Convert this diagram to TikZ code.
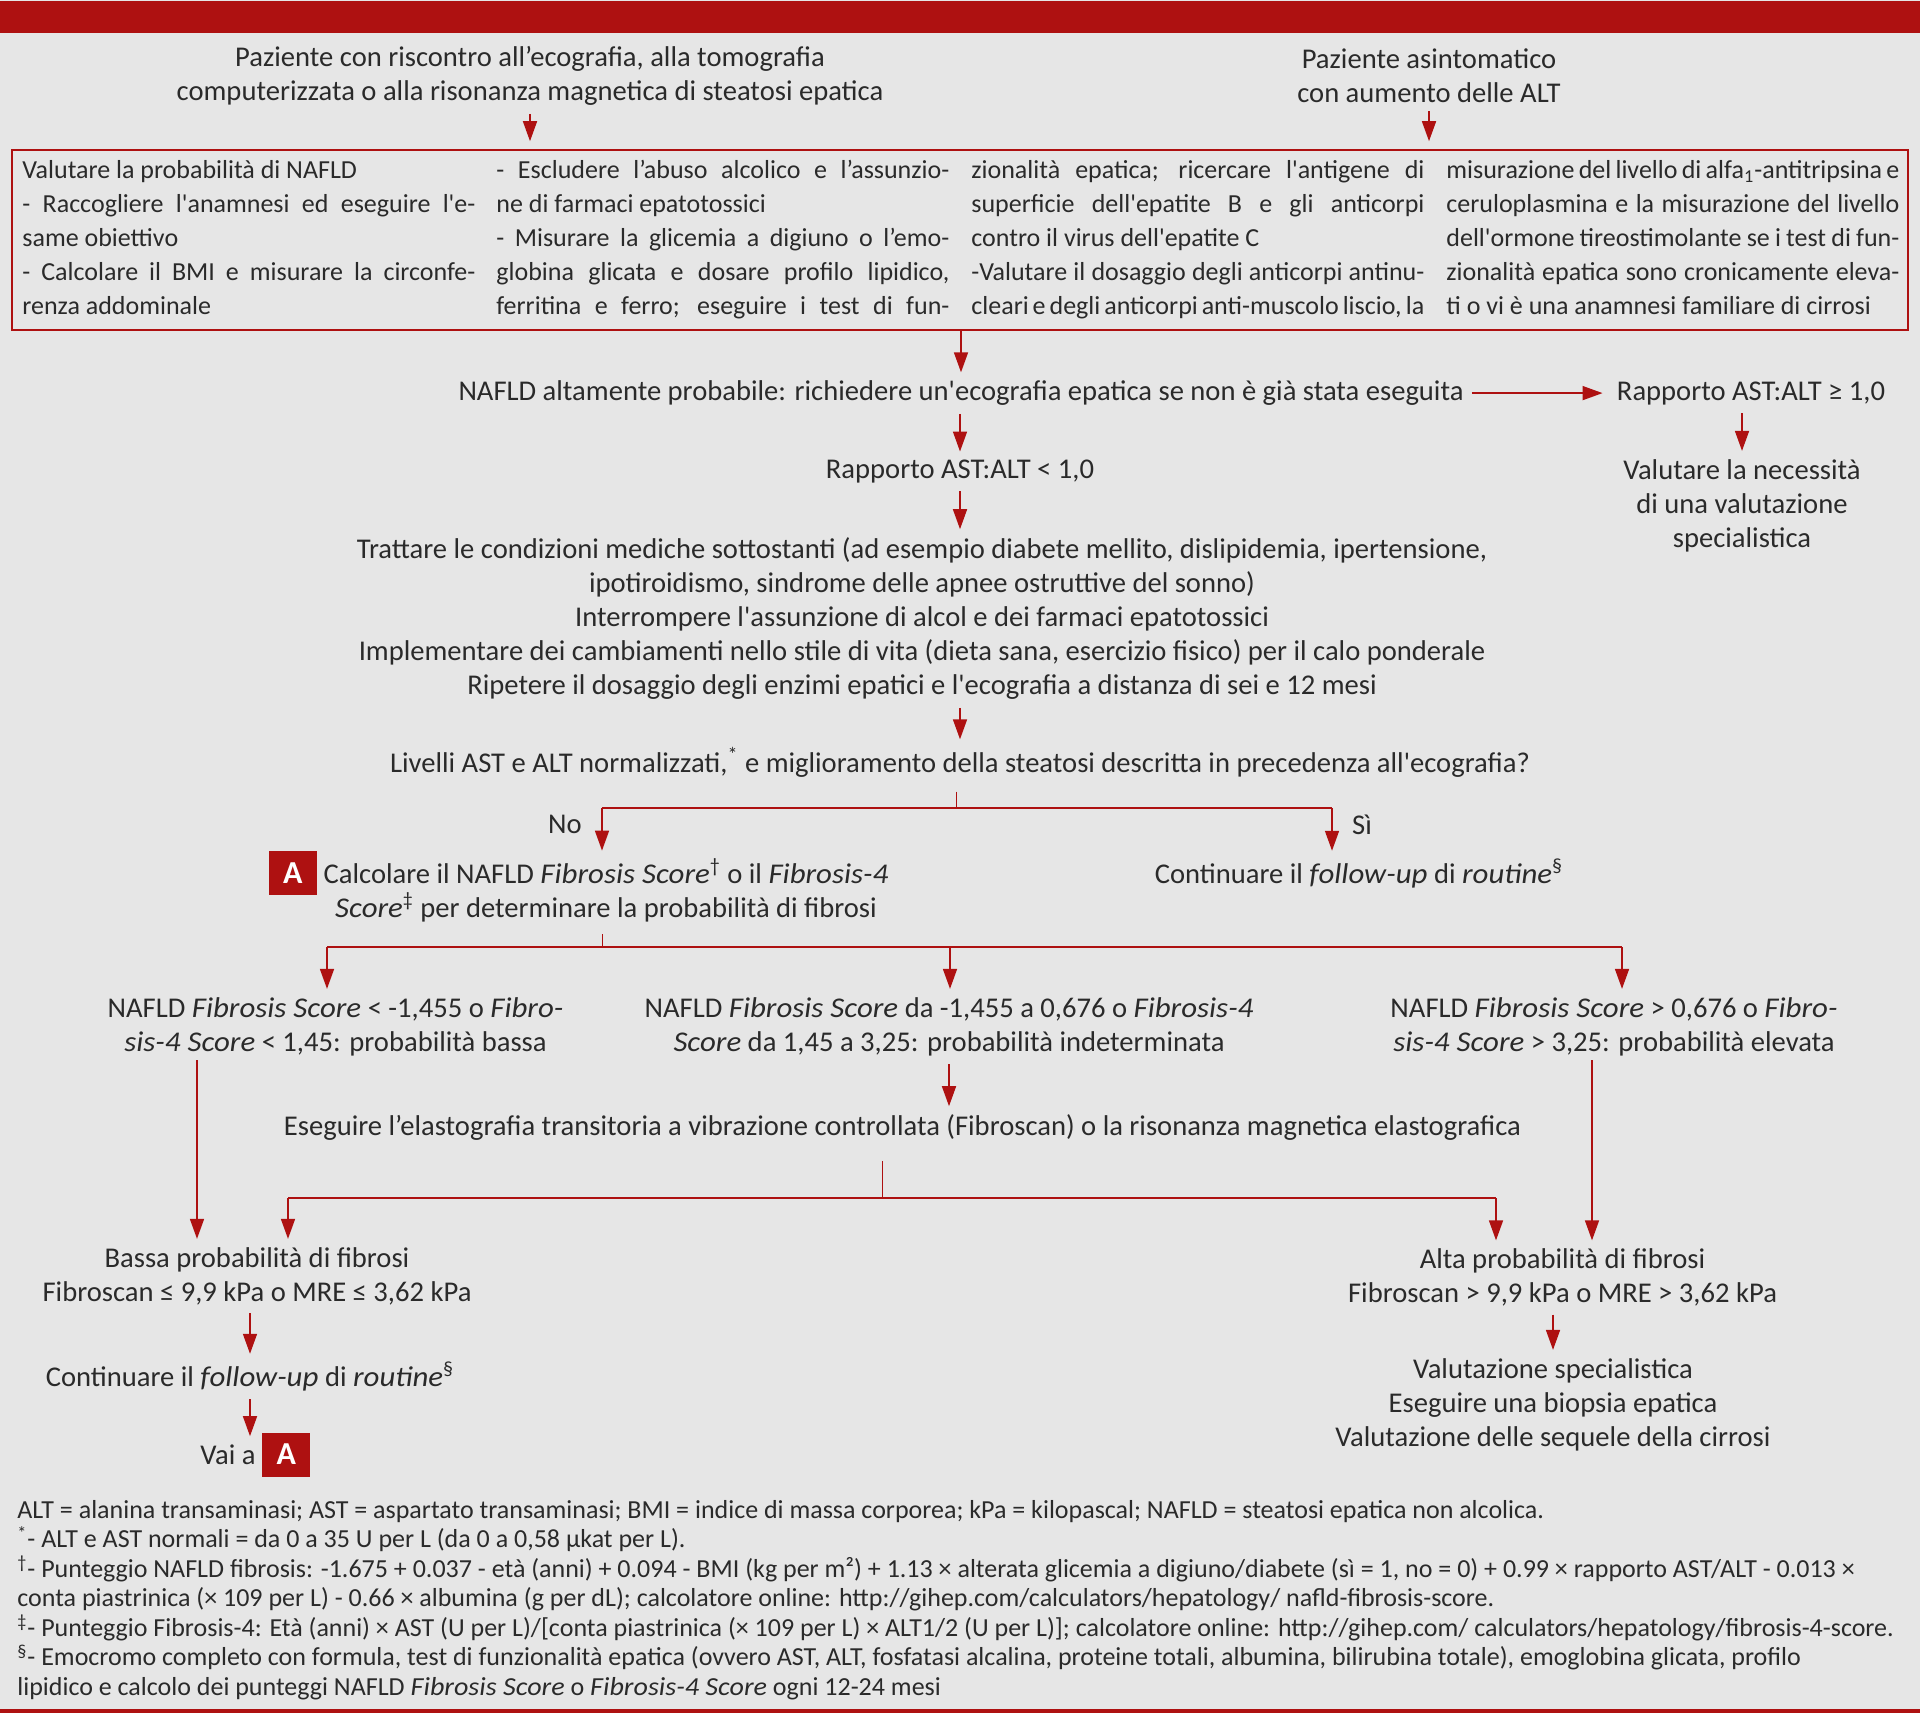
\documentclass[tikz,border=0pt]{standalone}
\usepackage{fontspec}
\setmainfont{Carlito}[Ligatures=TeXOff,ItalicFeatures={FakeStretch=1.08}]
\usetikzlibrary{arrows.meta,positioning,calc}
\definecolor{flowred}{HTML}{AE1111}
\definecolor{bggray}{HTML}{E6E6E6}
\definecolor{txtgray}{HTML}{2A2A2A}
\newlength{\colw}
\setlength{\colw}{226.5pt}
\newcommand{\jl}[1]{\makebox[\colw][s]{#1}}
\tikzset{
  arr/.style={-{Triangle[length=10pt,width=7pt]},flowred,line width=0.8pt,
    shorten <=4pt,shorten >=4pt},
  drop/.style={arr,shorten <=0pt},
  fork/.style={flowred,line width=1.4pt},
  stub/.style={flowred,line width=0.5pt},
  txt/.style={align=center,font=\fontsize{14.3}{17}\selectfont,text=txtgray,
    inner sep=0pt,yshift=-1.25pt},
  col/.style={align=left,font=\fontsize{13}{17}\selectfont,text=txtgray,
    inner sep=0pt,anchor=north west},
  badge/.style={fill=flowred,text=white,font=\fontsize{16}{16}\selectfont\bfseries,
    minimum width=24pt,minimum height=22pt,inner sep=0pt},
  note/.style={align=left,font=\fontsize{13}{14.75}\selectfont,text=txtgray,
    inner sep=0pt,anchor=north west},
}

\begin{document}
\begin{tikzpicture}[x=0.5pt,y=0.5pt]

\fill[bggray] (0,0) rectangle (1920,-1713);
\useasboundingbox (0,0) rectangle (1920,-1713);
\fill[flowred] (0,-1) rectangle (1920,-33);
\fill[flowred] (0,-1709) rectangle (1920,-1713);

\node[txt] (pz1) at (530,-73.5) {Paziente con riscontro all’ecografia, alla tomografia\\
  computerizzata o alla risonanza magnetica di steatosi epatica};
\node[txt] (pz2) at (1429,-73.5) {Paziente asintomatico\\con aumento delle ALT};

\node[draw=flowred,line width=0.8pt,minimum width=948pt,minimum height=90pt,
  inner sep=0pt] (box) at (960,-240) {};
\node[col] (c1) at (22,-160) {Valutare la probabilità di NAFLD\\
  \jl{- Raccogliere l'anamnesi ed eseguire l'e-}\\
  same obiettivo\\
  \jl{- Calcolare il BMI e misurare la circonfe-}\\
  renza addominale};
\node[col] (c2) at (496,-160) {\jl{- Escludere l’abuso alcolico e l’assunzio-}\\
  ne di farmaci epatotossici\\
  \jl{- Misurare la glicemia a digiuno o l’emo-}\\
  \jl{globina glicata e dosare profilo lipidico,}\\
  \jl{ferritina e ferro; eseguire i test di fun-}};
\node[col] (c3) at (971,-160) {\jl{zionalità epatica; ricercare l'antigene di}\\
  \jl{superficie dell'epatite B e gli anticorpi}\\
  contro il virus dell'epatite C\\
  \jl{-Valutare il dosaggio degli anticorpi antinu-}\\
  \jl{cleari e degli anticorpi anti-muscolo liscio, la}};
\node[col] (c4) at (1446,-160) {\jl{misurazione del livello di alfa\textsubscript{1}-antitripsina e}\\
  \jl{ceruloplasmina e la misurazione del livello}\\
  \jl{dell'ormone tireostimolante se i test di fun-}\\
  \jl{zionalità epatica sono cronicamente eleva-}\\
  ti o vi è una anamnesi familiare di cirrosi};

\draw[arr] (pz1.south) -- (pz1.south |- box.north);
\draw[arr] (pz2.south) -- (pz2.south |- box.north);

\node[txt] (nafld) at (961,-390.6) {NAFLD altamente probabile: richiedere un'ecografia epatica se non è già stata eseguita};
\node[txt] (rapge) at (1751,-390.6) {Rapporto AST:ALT ≥ 1,0};
\node[txt] (need) at (1742,-503) {Valutare la necessità\\di una valutazione\\specialistica};
\node[txt] (raplt) at (960,-469) {Rapporto AST:ALT < 1,0};
\node[txt] (treat) at (922,-616) {Trattare le condizioni mediche sottostanti (ad esempio diabete mellito, dislipidemia, ipertensione,\\
  ipotiroidismo, sindrome delle apnee ostruttive del sonno)\\
  Interrompere l'assunzione di alcol e dei farmaci epatotossici\\
  Implementare dei cambiamenti nello stile di vita (dieta sana, esercizio fisico) per il calo ponderale\\
  Ripetere il dosaggio degli enzimi epatici e l'ecografia a distanza di sei e 12 mesi};
\node[txt] (norm) at (960,-760) {Livelli AST e ALT normalizzati,\textsuperscript{*} e miglioramento della steatosi descritta in precedenza all'ecografia?};

\draw[arr,shorten <=0pt] (box.south -| nafld) -- (nafld.north);
\draw[arr,shorten >=7pt] (nafld.east) -- (rapge.west);
\draw[arr] (need.north |- rapge.south) -- (need.north);
\draw[arr] (nafld.south -| raplt) -- (raplt.north);
\draw[arr] (raplt.south) -- (raplt.south |- treat.north);
\draw[arr] (treat.south -| norm) -- (norm.north);

% No / Si
\coordinate (f0) at (956,-808);
\coordinate (fL) at (602,-808);
\coordinate (fR) at (1332,-808);
\node[txt] (no) at (565,-822) {No};
\node[txt] (si) at (1362,-822) {Sì};
\node[txt] (calc) at (606,-888) {Calcolare il NAFLD \textit{Fibrosis Score}\textsuperscript{†} o il \textit{Fibrosis-4}\\
  \textit{Score}\textsuperscript{‡} per determinare la probabilità di fibrosi};
\node[badge,anchor=east] (ba) at ($(calc.north west)+(-3pt,-7pt)$) {A};
\node[txt] (fup) at (1359,-871) {Continuare il \textit{follow-up} di \textit{routine}\textsuperscript{§}};

\draw[stub,shorten <=7pt] (norm.south -| f0) -- (f0);
\draw[fork] (fL) -- (fR);
\draw[drop] (fL) -- (fL |- calc.north);
\draw[drop] (fR) -- (fR |- fup.north);

% three scores
\coordinate (g0) at (602,-947);
\coordinate (gL) at (327,-947);
\coordinate (gM) at (950,-947);
\coordinate (gR) at (1622,-947);
\node[txt] (lo) at (335.5,-1024) {NAFLD \textit{Fibrosis Score} < -1,455 o \textit{Fibro-}\\
  \textit{sis-4 Score} < 1,45: probabilità bassa};
\node[txt] (mid) at (949,-1024) {NAFLD \textit{Fibrosis Score} da -1,455 a 0,676 o \textit{Fibrosis-4}\\
  \textit{Score} da 1,45 a 3,25: probabilità indeterminata};
\node[txt] (hi) at (1614,-1024) {NAFLD \textit{Fibrosis Score} > 0,676 o \textit{Fibro-}\\
  \textit{sis-4 Score} > 3,25: probabilità elevata};

\draw[stub,shorten <=6pt] (calc.south -| g0) -- (g0);
\draw[fork] (gL) -- (gR);
\draw[drop] (gL) -- (gL |- lo.north);
\draw[drop] (gM) -- (gM |- mid.north);
\draw[drop] (gR) -- (gR |- hi.north);

\node[txt] (elasto) at (902.5,-1125) {Eseguire l’elastografia transitoria a vibrazione controllata (Fibroscan) o la risonanza magnetica elastografica};
\draw[arr] (mid.south) -- (mid.south |- elasto.north);

\coordinate (h0) at (882,-1198);
\coordinate (hL) at (288,-1198);
\coordinate (hR) at (1496,-1198);
\coordinate (lowdrop) at (197,-1060);
\coordinate (highdrop) at (1592,-1060);
\node[txt] (low) at (257,-1273.5) {Bassa probabilità di fibrosi\\Fibroscan ≤ 9,9 kPa o MRE ≤ 3,62 kPa};
\node[txt] (high) at (1562.5,-1275) {Alta probabilità di fibrosi\\Fibroscan > 9,9 kPa o MRE > 3,62 kPa};

\draw[stub,shorten <=10pt] (elasto.south -| h0) -- (h0);
\draw[fork] (hL) -- (hR);
\draw[drop] (hL) -- (hL |- low.north);
\draw[drop] (hR) -- (hR |- high.north);
\draw[drop] (lowdrop) -- (lowdrop |- low.north);
\draw[drop] (highdrop) -- (highdrop |- high.north);

\node[txt] (fup2) at (250,-1374) {Continuare il \textit{follow-up} di \textit{routine}\textsuperscript{§}};
\node[txt] (vai) at (228,-1452) {Vai a};
\node[badge,right=3pt of vai] (ba2) {A};
\node[txt] (spec) at (1553,-1402) {Valutazione specialistica\\Eseguire una biopsia epatica\\Valutazione delle sequele della cirrosi};

\draw[arr] (low.south -| fup2) -- (fup2.north);
\draw[arr] (fup2.south) -- (fup2.south |- vai.north);
\draw[arr] (high.south -| spec) -- (spec.north);

\node[note] (notes) at (17,-1500) {ALT = alanina transaminasi; AST = aspartato transaminasi; BMI = indice di massa corporea; kPa = kilopascal; NAFLD = steatosi epatica non alcolica.\\
  \textsuperscript{*}- ALT e AST normali = da 0 a 35 U per L (da 0 a 0,58 µkat per L).\\
  \textsuperscript{†}- Punteggio NAFLD fibrosis: -1.675 + 0.037 - età (anni) + 0.094 - BMI (kg per m²) + 1.13 × alterata glicemia a digiuno/diabete (sì = 1, no = 0) + 0.99 × rapporto AST/ALT - 0.013 ×\\
  conta piastrinica (× 109 per L) - 0.66 × albumina (g per dL); calcolatore online: http://gihep.com/calculators/hepatology/ nafld-fibrosis-score.\\
  \textsuperscript{‡}- Punteggio Fibrosis-4: Età (anni) × AST (U per L)/[conta piastrinica (× 109 per L) × ALT1/2 (U per L)]; calcolatore online: http://gihep.com/ calculators/hepatology/fibrosis-4-score.\\
  \textsuperscript{§}- Emocromo completo con formula, test di funzionalità epatica (ovvero AST, ALT, fosfatasi alcalina, proteine totali, albumina, bilirubina totale), emoglobina glicata, profilo\\
  lipidico e calcolo dei punteggi NAFLD \textit{Fibrosis Score} o \textit{Fibrosis-4 Score} ogni 12-24 mesi};
\end{tikzpicture}
\end{document}
